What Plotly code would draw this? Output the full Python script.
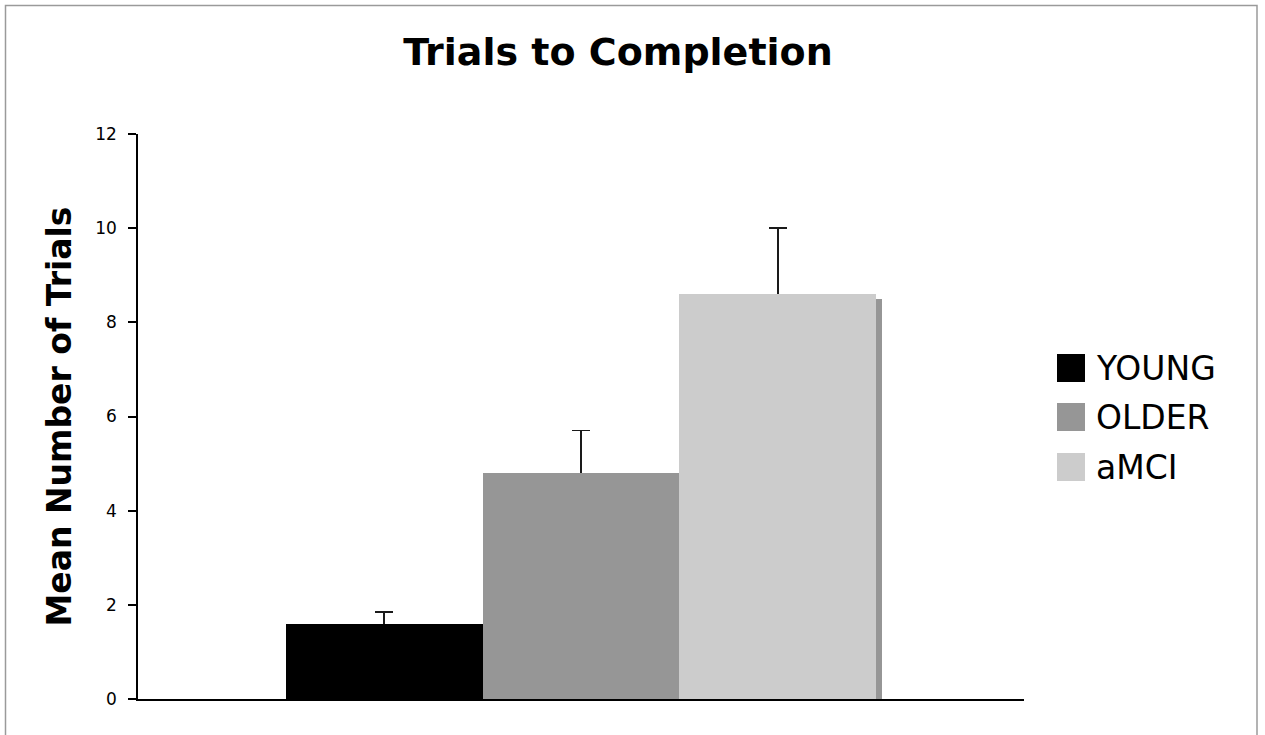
import plotly.graph_objects as go

# ---- data ----
groups = ["YOUNG", "OLDER", "aMCI"]
means = [1.6, 4.8, 8.6]
errors_plus = [0.25, 0.9, 1.4]
colors = ["#000000", "#969696", "#cccccc"]
shadow_value = [8.5]  # dark strip visible at right edge of the aMCI bar
y_ticks = [0, 2, 4, 6, 8, 10, 12]

FONT = "DejaVu Sans"
W, H = 1265, 735
# plot area in screen px
L, R, T, B = 138, 1024, 134, 699

def px_x(p):
    return (p - L) / (R - L)

def px_y(p):
    return (B - p) / (B - T)

fig = go.Figure()
# bars carrying the error bars (lower whisker hidden under the covering bars)
for i, (g, m, e, c) in enumerate(zip(groups, means, errors_plus, colors)):
    fig.add_trace(go.Bar(
        x=[i], y=[m], width=[1.0], name=g,
        marker=dict(color=c, line=dict(width=0)),
        error_y=dict(type="data", symmetric=False, array=[e], arrayminus=[m],
                     color="#1a1a1a", thickness=1.6, width=9),
        showlegend=False,
    ))
# covering bars
for i, (g, m, c) in enumerate(zip(groups, means, colors)):
    fig.add_trace(go.Bar(
        x=[i], y=[m], width=[1.0], name=g,
        marker=dict(color=c, line=dict(width=0)),
        showlegend=False,
    ))

# thin dark strip at the right edge of the last bar
fig.add_trace(go.Bar(
    x=[2.5 + 0.015], y=shadow_value, width=[0.03],
    marker=dict(color="#969696", line=dict(width=0)),
    showlegend=False, hoverinfo="skip",
))

shapes = []
annotations = []
# outer frame
shapes.append(dict(type="rect", xref="paper", yref="paper",
                   x0=px_x(5.5), x1=px_x(1257), y0=px_y(760), y1=px_y(5.5),
                   line=dict(color="#9a9a9a", width=1.5), fillcolor="rgba(0,0,0,0)",
                   layer="below"))

# custom legend with large swatches
leg_rows = [368, 417, 467]
for g, c, yc in zip(groups, colors, leg_rows):
    shapes.append(dict(type="rect", xref="paper", yref="paper",
                       x0=px_x(1057), x1=px_x(1085), y0=px_y(yc + 14), y1=px_y(yc - 14),
                       fillcolor=c, line=dict(width=0)))
    annotations.append(dict(xref="paper", yref="paper", x=px_x(1094), y=px_y(yc),
                            xanchor="left", yanchor="middle", text=g, showarrow=False,
                            font=dict(family=FONT, size=33, color="#000000")))

fig.update_layout(
    width=W, height=H,
    margin=dict(l=L, r=W - R, t=T, b=H - B, pad=0),
    paper_bgcolor="white", plot_bgcolor="white",
    barmode="overlay", bargap=0,
    title=dict(text="<b>Trials to Completion</b>", x=618 / W, xanchor="center",
               y=1 - 52 / H, yanchor="middle",
               font=dict(family=FONT, size=38, color="#000000")),
    xaxis=dict(range=[-1.25, 3.25], showticklabels=False, ticks="", showgrid=False,
               zeroline=False, showline=True, linecolor="#000000", linewidth=1.5),
    yaxis=dict(range=[0, 12], tickvals=y_ticks, ticktext=[str(v) for v in y_ticks],
               ticks="outside", ticklen=8, tickwidth=1.5, tickcolor="#000000",
               ticklabelstandoff=8,
               showgrid=False, zeroline=False, showline=True, linecolor="#000000",
               linewidth=1.5,
               tickfont=dict(family=FONT, size=17, color="#000000"),
               title=dict(text="<b>Mean Number of Trials</b>", standoff=14,
                          font=dict(family=FONT, size=33, color="#000000"))),
    shapes=shapes, annotations=annotations,
)

fig.write_html("out.html", config={"displayModeBar": False},
               post_script="document.body.style.margin='0px';document.body.style.overflow='hidden';")
